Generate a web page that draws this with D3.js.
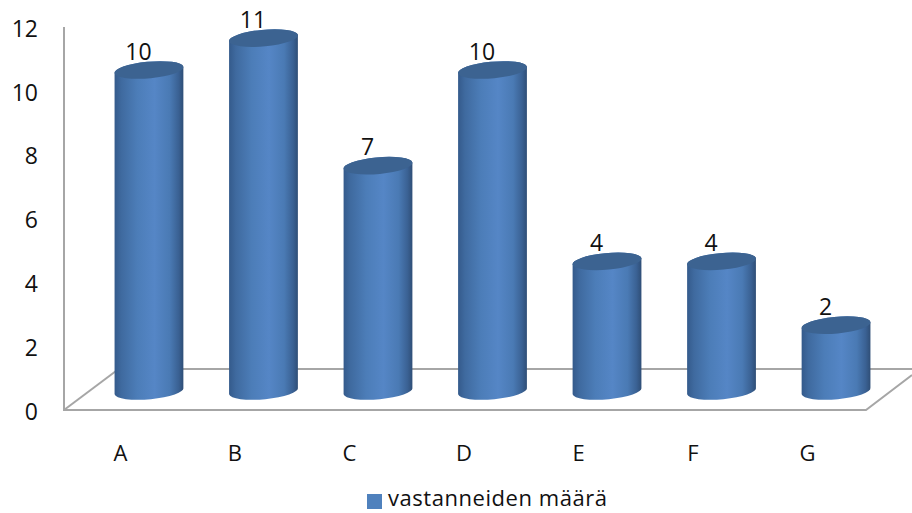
<!DOCTYPE html>
<html>
<head>
<meta charset="utf-8">
<script src="https://cdn.jsdelivr.net/npm/d3@7/dist/d3.min.js"></script>
<style>
html,body{margin:0;padding:0;background:#fff}
svg{display:block}
text{font-family:"Open Sans",sans-serif;fill:#111}
</style>
</head>
<body>
<svg id="chart" width="912" height="513"></svg>
<script>
const categories = ["A","B","C","D","E","F","G"];
const respondents = [10,11,7,10,4,4,2];
const yTicks = [0,2,4,6,8,10,12];
const seriesName = "vastanneiden määrä";

const svg = d3.select("#chart");
const y = d3.scaleLinear().domain([0,12]).range([389,6.2]);
const x = d3.scaleBand().domain(categories).range([92,893]).paddingInner(0.405).paddingOuter(0.2);
const cx = c => x(c) + x.bandwidth()/2;
const rx = 34.4, ry = 8.3, tilt = -5, dy = 3.3, baseDrop = 2;

// Horizontal shading that makes the columns read as cylinders
const defs = svg.append("defs");
const grad = defs.append("linearGradient").attr("id","cyl");
[[0,"#345a8b"],[0.1,"#3f6a9f"],[0.33,"#4c7db8"],[0.58,"#5586c6"],[0.8,"#4a7ab4"],[0.93,"#3a6193"],[1,"#2f4e76"]]
  .forEach(([o,c]) => grad.append("stop").attr("offset",o).attr("stop-color",c));

// Floor of the 3D plot
const floor = svg.append("g").attr("fill","none").attr("stroke","#a6a6a6").attr("stroke-width",2);
floor.append("path").attr("d","M64,27V410H866L912,375");
floor.append("path").attr("d","M64,410L116,371");
floor.append("path").attr("d","M116,369H912");

const lidArc = `A${rx},${ry} ${tilt} 1 1`;

// Cylinders: body first, lid on top
const bars = svg.append("g").selectAll("g").data(categories).join("g");
bars.append("path")
  .attr("fill","url(#cyl)")
  .attr("d",(c,i) => {
    const m = cx(c), t = y(respondents[i]), b = y(0) + baseDrop;
    return `M${m-rx},${t+dy}L${m-rx},${b+dy}A${rx},${ry} ${tilt} 0 0 ${m+rx},${b-dy}L${m+rx},${t-dy}A${rx},${ry} ${tilt} 0 0 ${m-rx},${t+dy}Z`;
  });
bars.append("path")
  .attr("fill","#3c6391")
  .attr("d",(c,i) => {
    const m = cx(c), t = y(respondents[i]);
    return `M${m-rx},${t+dy}${lidArc} ${m+rx},${t-dy}${lidArc} ${m-rx},${t+dy}Z`;
  });

// Value labels above each lid
svg.append("g").attr("font-size",23).attr("text-anchor","middle")
  .selectAll("text").data(categories).join("text")
  .attr("x",c => cx(c)-10.5)
  .attr("y",(c,i) => y(respondents[i])-10.5)
  .text((c,i) => respondents[i]);

// Vertical axis labels
svg.append("g").attr("font-size",23).attr("text-anchor","end")
  .selectAll("text").data(yTicks).join("text")
  .attr("x",38)
  .attr("y",d => 419.5 - d*31.9)
  .text(d => d);

// Category labels
svg.append("g").attr("font-size",22).attr("text-anchor","middle")
  .selectAll("text").data(categories).join("text")
  .attr("x",c => cx(c)-28.5)
  .attr("y",461)
  .text(c => c);

// Legend
svg.append("rect").attr("x",367).attr("y",494).attr("width",15).attr("height",15).attr("fill","#4f81bd");
svg.append("text").attr("x",388).attr("y",506).attr("font-size",22).attr("letter-spacing",0.55).text(seriesName);
</script>
</body>
</html>
